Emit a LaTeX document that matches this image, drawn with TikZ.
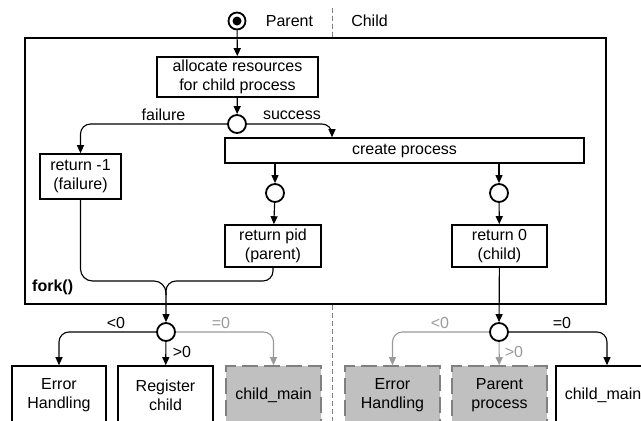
\documentclass[tikz,border=0pt]{standalone}
\usepackage{fontspec}
\setmainfont{Liberation Sans}
\usetikzlibrary{arrows.meta,calc}
\definecolor{lgray}{HTML}{9A9A9A}
\definecolor{boxgray}{HTML}{C0C0C0}
\definecolor{dgray}{HTML}{808080}
\begin{document}
\begin{tikzpicture}[x=1pt,y=-1pt,
  font=\fontsize{16}{19}\selectfont,
  box/.style={draw, line width=1.6pt, align=center, inner sep=0pt, fill=white},
  gbox/.style={draw=dgray, fill=boxgray, line width=1.6pt, dash pattern=on 16pt off 6pt, dash phase=4pt, align=center, inner sep=0pt},
  dec/.style={circle, draw, line width=1.8pt, minimum size=18pt, inner sep=0pt, fill=white},
  arr/.style={-{Triangle[length=8pt,width=7pt]}, line width=1.15pt},
  garr/.style={arr, color=lgray},
  lbl/.style={inner sep=0pt},
  divider/.style={dgray, line width=1pt, dash pattern=on 5pt off 3pt}
]
\useasboundingbox (0,0) rectangle (641,421);
\clip (0,0) rectangle (641,421);

% fork() frame
\node[draw, line width=1.8pt, minimum width=581pt, minimum height=266pt, inner sep=0pt] (fork) at (315.5,171) {};
\node[lbl, anchor=west, font=\fontsize{16}{19}\selectfont\bfseries] (forklbl) at (32,287) {fork()};

% divider
\coordinate (dtop) at (332,8);
\coordinate (dbot) at (332,421);
\draw[divider] (dtop) -- (dtop |- fork.north);
\draw[divider] (dbot |- fork.south) -- (dbot);
\node[lbl] (parent) at (289.5,21) {Parent};
\node[lbl] (child) at (369.5,21) {Child};

% start
\node[circle, draw, line width=1.8pt, minimum size=17pt, inner sep=0pt] (start) at (237,21) {};
\fill (start.center) circle (4.5pt);

% boxes
\node[box, minimum width=161pt, minimum height=40pt] (alloc) at (237.5,77) {allocate resources\\for child process};
\node[dec] (c1) at (237,124) {};
\node[box, minimum width=81pt, minimum height=45pt] (ret1) at (80.5,176.5) {return -1\\(failure)};
\node[box, minimum width=359pt, minimum height=25pt] (create) at (404.5,150.5) {create process};
\node[dec] (c2) at (275,193) {};
\node[dec] (c3) at (499,193) {};
\node[box, minimum width=96pt, minimum height=42pt] (retpid) at (273,246) {return pid\\(parent)};
\node[box, minimum width=95pt, minimum height=42pt] (ret0) at (499.5,246) {return 0\\(child)};

\node[dec] (c4) at (166,332) {};
\node[dec] (c5) at (499,332) {};

\node[box, minimum width=94pt, minimum height=58pt] (eh1) at (59,395) {Error\\Handling};
\node[box, minimum width=95pt, minimum height=58pt] (reg) at (165.5,395) {Register\\child};
\node[gbox, minimum width=95pt, minimum height=58pt] (cm1) at (273.5,395) {child\_main};
\node[gbox, minimum width=95pt, minimum height=58pt] (eh2) at (392.5,395) {Error\\Handling};
\node[gbox, minimum width=95pt, minimum height=58pt] (pp) at (499.5,395) {Parent\\process};
\node[box, minimum width=94pt, minimum height=58pt] (cm2) at (603,395) {child\_main};

% labels
\node[lbl] (lfail) at (163.5,115) {failure};
\node[lbl] (lsucc) at (292,115) {success};
\node[lbl] (l1) at (116,323) {<0};
\node[lbl] (l2) at (182,352) {>0};
\node[lbl, text=lgray] (l3) at (221,323) {=0};
\node[lbl, text=lgray] (l4) at (440,323) {<0};
\node[lbl, text=lgray] (l5) at (514,352) {>0};
\node[lbl] (l6) at (562,323) {=0};

% connectors
\draw[arr] (start) -- (alloc);
\draw[arr] (alloc) -- (c1);
\draw[arr, rounded corners=10pt] (c1.west) -| (ret1.north);
\draw[arr, rounded corners=10pt] (c1.east) -| ([xshift=-72.5pt]create.north);
\draw[arr] (create.south -| c2) -- (c2);
\draw[arr] (create.south -| c3) -- (c3);
\draw[arr] (c2) -- (retpid);
\draw[arr] (c3) -- (ret0);

\coordinate (merge) at (166,281);
\draw[arr, rounded corners=12pt] (ret1.south) |- (merge) -- (c4.north);
\draw[line width=1.15pt, rounded corners=10pt] (retpid.south) |- (merge) -- ++(0,14);
\draw[arr] (ret0) -- (c5);

\draw[arr, rounded corners=10pt] (c4.west) -| (eh1.north);
\draw[arr] (c4) -- (reg);
\draw[garr, rounded corners=10pt] (c4.east) -| (cm1.north);

\draw[garr, rounded corners=10pt] (c5.west) -| (eh2.north);
\draw[garr] (c5) -- (pp);
\draw[arr, rounded corners=10pt] (c5.east) -| ([xshift=4pt]cm2.north);
\end{tikzpicture}
\end{document}
